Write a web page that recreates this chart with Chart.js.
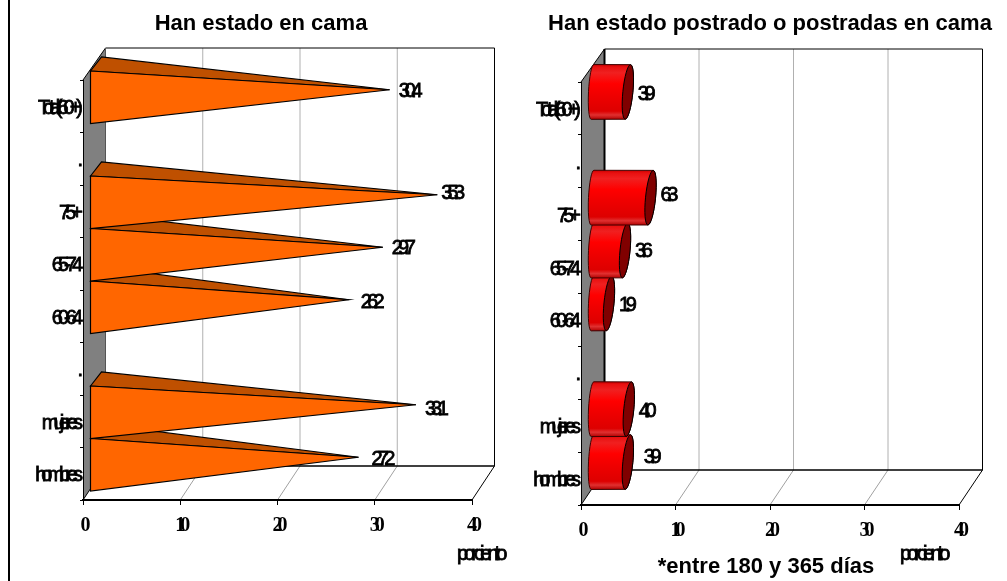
<!doctype html>
<html lang="es">
  <head>
    <meta charset="utf-8">
    <title>Han estado en cama</title>
    <script src="https://cdn.jsdelivr.net/npm/chart.js@4/dist/chart.umd.js"></script>
    <style>
      html, body { margin: 0; padding: 0; background: #fff; overflow: hidden; }
      #marco { position: absolute; left: 8px; top: 0; width: 2px; height: 581px; background: #000; }
      canvas { position: absolute; top: 0; }
    </style>
  </head>
  <body>
    <div id="marco"></div>
    <canvas id="graficaCama" width="510" height="581" style="left:0"></canvas>
    <canvas id="graficaPostrado" width="497" height="581" style="left:510px"></canvas>

    <script>
    // Datos
    const categorias = ['Total (60+)', '.', '75+', '65-74', '60-64', '.', 'mujeres', 'hombres'];
    const enCama = [30.4, null, 35.3, 29.7, 26.2, null, 33.1, 27.2];
    const postrado = [3.9, null, 6.3, 3.6, 1.9, null, 4.0, 3.9];
    const maxEje = 40;
    const pasoEje = 10;

    const SANS = '"Liberation Sans"';
    const SERIF = '"Liberation Serif"';

    function texto(ctx, str, x, y, font, espacio, align, grueso) {
      ctx.save();
      ctx.font = font;
      ctx.letterSpacing = espacio + 'px';
      ctx.textAlign = align || 'left';
      ctx.textBaseline = 'middle';
      ctx.fillStyle = '#000';
      if (grueso) {
        ctx.strokeStyle = '#000';
        ctx.lineWidth = grueso;
        ctx.strokeText(str, x, y);
      }
      ctx.fillText(str, x, y);
      ctx.restore();
    }

    function linea(ctx, x1, y1, x2, y2, color, ancho) {
      ctx.strokeStyle = color;
      ctx.lineWidth = ancho;
      ctx.beginPath();
      ctx.moveTo(x1, y1);
      ctx.lineTo(x2, y2);
      ctx.stroke();
    }

    // la caja 3D: pared de atras, piso y pared gris
    function dibujarCaja(chart, o) {
      const ctx = chart.ctx, a = chart.chartArea, x = chart.scales.x;
      const dx = o.fondoX;
      const fondoTop = a.top - o.fondoArriba, fondoBase = a.bottom - o.fondoAbajo;

      for (let v = pasoEje; v < maxEje; v += pasoEje) {
        const px = x.getPixelForValue(v);
        linea(ctx, px + dx, fondoTop, px + dx, fondoBase, '#b0b0b0', 1);
        linea(ctx, px, a.bottom, px + dx, fondoBase, '#a0a0a0', 1);
      }

      ctx.fillStyle = '#808080';
      ctx.beginPath();
      ctx.moveTo(a.left + dx, fondoTop);
      ctx.lineTo(a.left, a.top);
      ctx.lineTo(a.left, a.bottom);
      ctx.lineTo(a.left + dx, fondoBase);
      ctx.closePath();
      ctx.fill();

      linea(ctx, a.left + dx, fondoTop, a.right + dx, fondoTop, '#000', 1);
      linea(ctx, a.right + dx, fondoTop, a.right + dx, fondoBase, '#000', 1);
      linea(ctx, a.left + dx, fondoBase, a.right + dx, fondoBase, '#000', 1.6);
      linea(ctx, a.right, a.bottom, a.right + dx, fondoBase, '#000', 1);
      linea(ctx, a.left, a.top, a.left + dx, fondoTop, '#000', 1);
      linea(ctx, a.left, a.bottom, a.left + dx, fondoBase, '#000', 1);
      linea(ctx, a.left + dx, fondoTop, a.left + dx, fondoBase, o.bordePared, o.anchoPared);
    }

    function dibujarCono(ctx, el) {
      const xBase = el.base + 7, yCentro = el.y - 9;
      const arriba = yCentro - el.height / 2, abajo = yCentro + el.height / 2;
      const xPunta = el.x + 11, yPunta = el.y - 16.5;

      ctx.strokeStyle = '#000';
      ctx.lineWidth = 1.2;
      ctx.lineJoin = 'miter';

      ctx.fillStyle = '#BF5000';
      ctx.beginPath();
      ctx.moveTo(xBase, arriba);
      ctx.lineTo(xBase + 11, arriba - 14);
      ctx.lineTo(xPunta, yPunta);
      ctx.closePath();
      ctx.fill();
      ctx.stroke();

      ctx.fillStyle = '#FF6600';
      ctx.beginPath();
      ctx.moveTo(xBase, arriba);
      ctx.lineTo(xPunta, yPunta);
      ctx.lineTo(xBase, abajo);
      ctx.closePath();
      ctx.fill();
      ctx.stroke();
    }

    function dibujarCilindro(ctx, el) {
      const cy = el.y - 16.5, ry = el.height / 2 + 1, rx = 5, giro = 0.1;
      const xIni = el.base + 11, xFin = el.x + 10;

      const g = ctx.createLinearGradient(0, cy - ry, 0, cy + ry);
      g.addColorStop(0, '#C80000');
      g.addColorStop(0.05, '#E81010');
      g.addColorStop(0.15, '#F02020');
      g.addColorStop(0.35, '#FF0000');
      g.addColorStop(0.55, '#F00000');
      g.addColorStop(0.85, '#DD0000');
      g.addColorStop(0.92, '#E03030');
      g.addColorStop(1, '#B00000');

      ctx.fillStyle = g;
      ctx.strokeStyle = '#400000';
      ctx.lineWidth = 1;
      ctx.beginPath();
      ctx.ellipse(xIni, cy, rx - 1, ry, giro / 2, -Math.PI / 2, Math.PI / 2, true);
      ctx.ellipse(xFin, cy, rx, ry, giro, Math.PI / 2, -Math.PI / 2, true);
      ctx.closePath();
      ctx.fill();
      ctx.stroke();

      ctx.fillStyle = '#800000';
      ctx.strokeStyle = '#000';
      ctx.beginPath();
      ctx.ellipse(xFin, cy, rx, ry, giro, 0, Math.PI * 2);
      ctx.fill();
      ctx.stroke();
    }

    const plugin3D = {
      id: 'plugin3D',
      beforeDraw(chart, args, o) {
        const ctx = chart.ctx;
        dibujarCaja(chart, o);
        texto(ctx, o.titulo, o.tituloX, 24, 'bold 22px ' + SANS, 0, 'center');
        texto(ctx, 'porciento', o.ejeX, 554, '20px ' + SANS, -4, 'left', 0.8);
        if (o.nota) texto(ctx, o.nota, o.notaX, 567, 'bold 22px ' + SANS, 0, 'center');
        ctx.letterSpacing = '-5px';
      },
      afterDatasetsDraw(chart, args, o) {
        const ctx = chart.ctx;
        const meta = chart.getDatasetMeta(0);
        const valores = chart.data.datasets[0].data;
        ctx.save();
        ctx.letterSpacing = '0px';
        // de abajo hacia arriba, cada barra tapa a la de abajo
        for (let i = valores.length - 1; i >= 0; i--) {
          if (valores[i] == null) continue;
          const el = meta.data[i];
          if (o.forma === 'cono') dibujarCono(ctx, el);
          else dibujarCilindro(ctx, el);
        }
        for (let i = 0; i < valores.length; i++) {
          if (valores[i] == null) continue;
          const el = meta.data[i];
          const m = o.ajusteEtiqueta[i] || [0, 0];
          texto(ctx, valores[i].toFixed(1), el.x + o.etiquetaX + m[0], el.y + o.etiquetaY + m[1], '20px ' + SANS, -5, 'left', 0.8);
        }
        ctx.restore();
      }
    };

    function crearPanel(id, valores, op) {
      return new Chart(document.getElementById(id), {
        type: 'bar',
        plugins: [plugin3D],
        data: {
          labels: categorias,
          datasets: [{
            data: valores,
            backgroundColor: 'transparent',
            borderWidth: 0,
            barPercentage: 1,
            categoryPercentage: 1
          }]
        },
        options: {
          indexAxis: 'y',
          responsive: false,
          animation: false,
          layout: { padding: { top: op.top, right: op.right, left: 0, bottom: 0 } },
          plugins: { legend: { display: false }, tooltip: { enabled: false }, plugin3D: op.caja },
          scales: {
            x: {
              min: 0,
              max: maxEje,
              ticks: {
                stepSize: pasoEje,
                autoSkip: false,
                maxRotation: 0,
                padding: 9,
                color: '#000',
                font: { family: SERIF, size: 20, weight: 'bold' }
              },
              grid: { drawOnChartArea: false, color: '#000', tickLength: 5 },
              border: { color: '#000', width: 2 },
              afterFit(s) {
                s.height = op.alturaEje;
                s.paddingLeft = 0;
                s.paddingRight = 0;
              }
            },
            y: {
              ticks: {
                autoSkip: false,
                padding: 2,
                labelOffset: 2,
                color: '#000',
                textStrokeColor: '#000',
                textStrokeWidth: 0.8,
                font: { family: SANS, size: 20 }
              },
              grid: { drawOnChartArea: false, color: '#000', tickLength: 3 },
              border: { color: '#000', width: 1 },
              afterFit(s) {
                s.width = op.anchoEje;
                s.paddingTop = 0;
                s.paddingBottom = 0;
              }
            }
          }
        }
      });
    }

    crearPanel('graficaCama', enCama, {
      top: 80, right: 38, alturaEje: 81, anchoEje: 83,
      caja: {
        forma: 'cono',
        titulo: 'Han estado en cama',
        tituloX: 261,
        ejeX: 457,
        fondoX: 22.5,
        fondoArriba: 32,
        fondoAbajo: 34,
        bordePared: '#555',
        anchoPared: 1,
        etiquetaX: 20,
        etiquetaY: -15,
        ajusteEtiqueta: { 2: [-5, -3], 4: [3, 1], 6: [0, 3], 7: [4, 1] }
      }
    });

    crearPanel('graficaPostrado', postrado, {
      top: 82, right: 48, alturaEje: 76, anchoEje: 71,
      caja: {
        forma: 'cilindro',
        titulo: 'Han estado postrado o postradas en cama',
        tituloX: 260,
        ejeX: 390,
        nota: '*entre 180 y 365 días',
        notaX: 256,
        fondoX: 23.5,
        fondoArriba: 33,
        fondoAbajo: 35,
        bordePared: '#000',
        anchoPared: 2,
        etiquetaX: 20,
        etiquetaY: -14,
        ajusteEtiqueta: { 2: [0, -5], 3: [0, -2], 7: [6, -7] }
      }
    });
    </script>
  </body>
</html>
